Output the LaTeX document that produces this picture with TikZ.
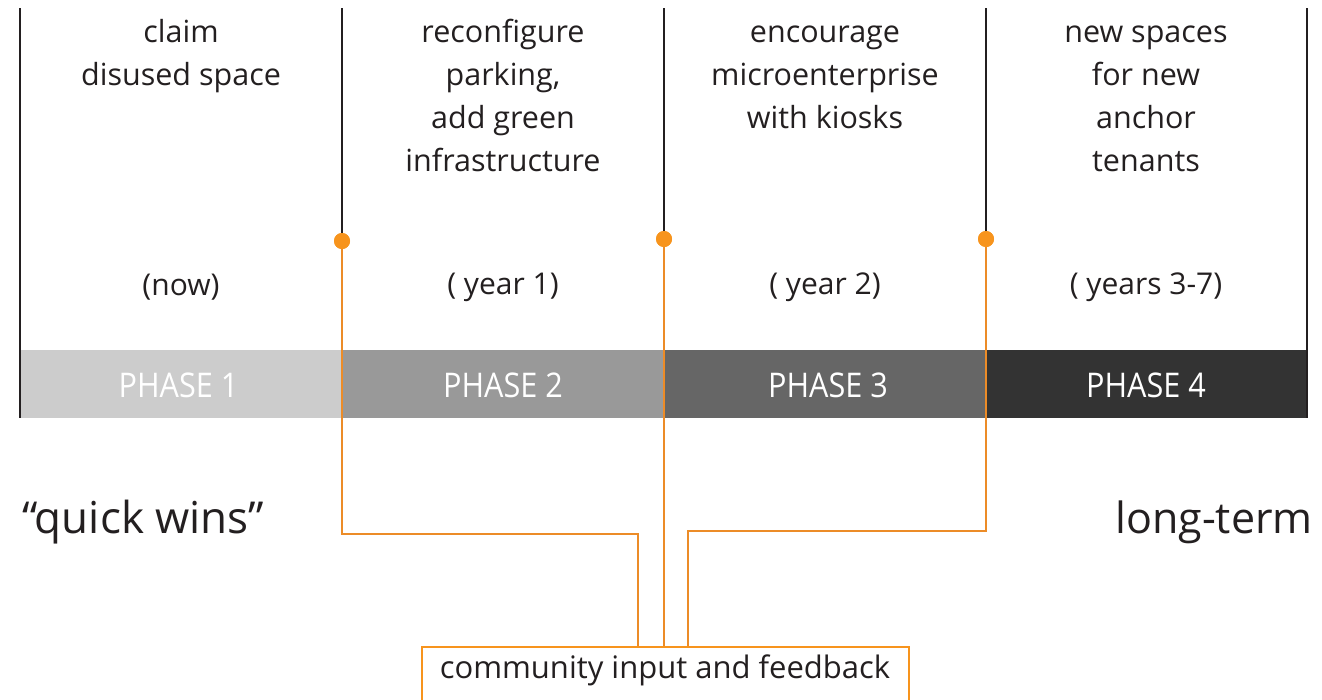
\documentclass[tikz,border=0pt]{standalone}
\usepackage{fontspec}
\setmainfont{Open Sans}
\usetikzlibrary{calc}
\definecolor{org}{RGB}{247,148,29}
\definecolor{orgl}{RGB}{236,140,40}
\definecolor{txt}{RGB}{35,31,32}
\definecolor{p1}{RGB}{204,204,204}
\definecolor{p2}{RGB}{153,153,153}
\definecolor{p3}{RGB}{102,102,102}
\definecolor{p4}{RGB}{51,51,51}
\begin{document}
\begin{tikzpicture}[x=1pt,y=-1pt,
  desc/.style={anchor=north,align=center,text=txt,font=\fontsize{30.5}{43}\selectfont,inner sep=0pt},
  yr/.style={text=txt,font=\fontsize{30}{36}\selectfont,inner sep=0pt},
  phase/.style={text=white,font=\fontsize{34}{40}\selectfont,inner sep=0pt},
  bar/.style={draw=none,minimum height=68pt,inner sep=0pt,minimum width=322pt},
  divider/.style={draw=txt,line width=2pt},
  link/.style={draw=orgl,line width=2pt},
  dot/.style={circle,fill=org,inner sep=0pt,minimum size=16pt}]
\useasboundingbox (0,0) rectangle (1322,699);
\clip (0,0) rectangle (1322,699);
% bars
\node[bar,fill=p1,minimum width=322pt] (b1) at (181,384) {};
\node[bar,fill=p2] (b2) at (503,384) {};
\node[bar,fill=p3] (b3) at (825,384) {};
\node[bar,fill=p4,minimum width=321pt] (b4) at (1146.5,384) {};
\node[phase] (t1) at (178.5,385) {\scalebox{0.9}[1]{PHASE 1}};
\node[phase] (t2) at (503,385) {\scalebox{0.9}[1]{PHASE 2}};
\node[phase] (t3) at (828,385) {\scalebox{0.9}[1]{PHASE 3}};
\node[phase] (t4) at (1146,385) {\scalebox{0.9}[1]{PHASE 4}};
% coordinates
\coordinate (l0t) at (20,8);
\coordinate (l0b) at (20,418);
\coordinate (l4t) at (1307,8);
\coordinate (l4b) at (1307,418);
\coordinate (l1t) at (342,8);
\coordinate (l2t) at (664,8);
\coordinate (l3t) at (986,8);
\node[dot] (d1) at (342,241) {};
\node[dot] (d2) at (664,239) {};
\node[dot] (d3) at (986,239) {};
\draw[divider] (l0t) -- (l0b);
\draw[divider] (l4t) -- (l4b);
\draw[divider] (l1t) -- (d1.center);
\draw[divider] (l2t) -- (d2.center);
\draw[divider] (l3t) -- (d3.center);
% box
\node[draw=org,line width=2pt,minimum width=487pt,minimum height=120pt,anchor=north,inner sep=0pt] (box) at (665.5,646) {};
\node[text=txt,font=\fontsize{31}{36}\selectfont,inner sep=0pt] (boxt) at (665,670) {community input and feedback};
% links
\draw[link] (d1.south) -- (342,534) -| (box.north -| 638,0);
\draw[link] (d2.south) -- (d2.south |- box.north);
\draw[link] (d3.south) -- (986,531) -| (box.north -| 688,0);
\node[dot] at (342,241) {};
\node[dot] at (664,239) {};
\node[dot] at (986,239) {};
% descriptions
\node[desc] (c1) at (181,12) {\strut claim\\disused space};
\node[desc] (c2) at (503,12) {\strut reconfigure\\parking,\\add green\\infrastructure};
\node[desc] (c3) at (825,12) {\strut encourage\\microenterprise\\with kiosks};
\node[desc] (c4) at (1146,12) {\strut new spaces\\for new\\anchor\\tenants};
\node[yr] (y1) at (181,287) {(now)};
\node[yr] (y2) at (503,287) {( year 1)};
\node[yr] (y3) at (825,287) {( year 2)};
\node[yr] (y4) at (1146,287) {( years 3-7)};
\node[text=txt,font=\fontsize{44}{50}\selectfont,inner sep=0pt,anchor=west] (qw) at (22,522) {“quick wins”};
\node[text=txt,font=\fontsize{43}{50}\selectfont,inner sep=0pt,anchor=east] (lt) at (1313,522) {long-term};
\end{tikzpicture}
\end{document}
